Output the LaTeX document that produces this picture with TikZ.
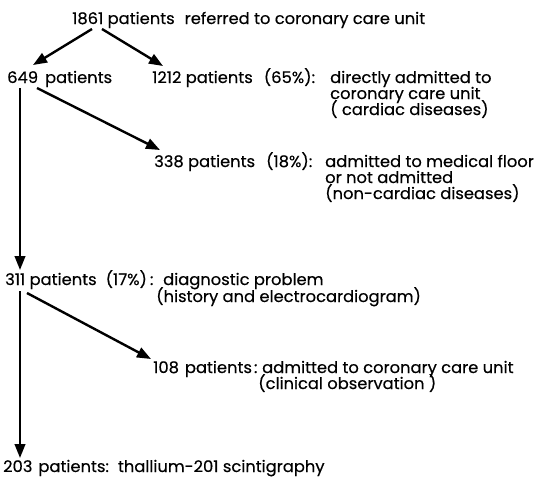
\documentclass[tikz,border=0pt]{standalone}
\usepackage{fontspec}
\newfontfamily\diagfont{Poppins}[FakeStretch=1.02,FakeBold=0.4]
\usetikzlibrary{arrows.meta,calc}
\begin{document}
\begin{tikzpicture}[x=1pt,y=-1pt,
  txt/.style={anchor=base west, inner sep=0pt, font=\fontsize{16}{16}\diagfont},
  arr/.style={line width=2.4pt, -{Triangle[length=14pt,width=10.5pt]}}]
\useasboundingbox (0,0) rectangle (537,483);
% texts
\node[txt] (n1861) at (72,24) {1861 patients\hspace{10pt}referred to coronary care unit};
\node[txt] (n649) at (7,83) {649\hspace{7pt}patients};
\node[txt] (n1212) at (152,83) {1212 patients\hspace{11pt}(65\%):};
\node[txt] (d1212a) at (330,83) {directly admitted to};
\node[txt] (d1212b) at (330,99) {coronary care unit};
\node[txt] (d1212c) at (330,115) {( cardiac diseases)};
\node[txt] (n338) at (154,167) {338 patients\hspace{11pt}(18\%):};
\node[txt] (d338a) at (325,167) {admitted to medical floor};
\node[txt] (d338b) at (325,183) {or not admitted};
\node[txt] (d338c) at (325,199) {(non-cardiac diseases)};
\node[txt] (n311) at (5,285) {311 patients\hspace{9pt}(17\%)\hspace{3pt}:};
\node[txt] (d311a) at (163,285) {diagnostic problem};
\node[txt] (d311b) at (156,302) {(history and electrocardiogram)};
\node[txt] (n108) at (153,373) {108\hspace{6pt}patients\hspace{2pt}:};
\node[txt] (d108a) at (262,373) {admitted to coronary care unit};
\node[txt] (d108b) at (258,389) {(clinical observation )};
\node[txt] (n203) at (3,472) {203\hspace{6pt}patients:\hspace{9pt}thallium-201 scintigraphy};
% arrows
\draw[arr] ($(n1861.base west)+(20,5)$) -- ($(n649.base west)+(26,-18)$);
\draw[arr] ($(n1861.base west)+(30,5)$) -- ($(n1212.base west)+(11,-17)$);
\draw[arr] ($(n649.base west)+(13,5)$) -- ($(n311.base west)+(15,-15)$);
\draw[arr] ($(n649.base west)+(30,5)$) -- ($(n338.base west)+(6,-17)$);
\draw[arr] ($(n311.base west)+(22,8)$) -- ($(n108.base west)+(-2,-14)$);
\draw[arr] ($(n311.base west)+(15,6)$) -- ($(n203.base west)+(17,-14)$);
\end{tikzpicture}
\end{document}
